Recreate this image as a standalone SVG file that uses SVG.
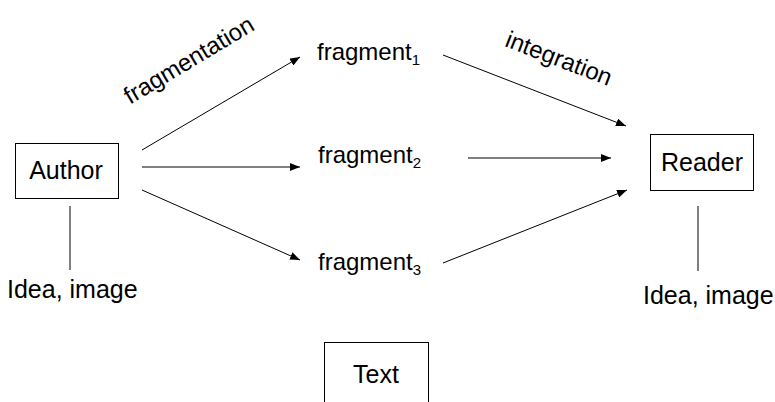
<svg xmlns="http://www.w3.org/2000/svg" width="775" height="402" viewBox="0 0 775 402">
<defs>
<marker id="ah" viewBox="0 0 10 8" refX="10" refY="4" markerWidth="10" markerHeight="8" markerUnits="userSpaceOnUse" orient="auto">
<path d="M0,0 L10,4 L0,8 Z" fill="#000"/>
</marker>
<style>
text{font-family:"Liberation Sans",Arial,sans-serif;font-size:25px;fill:#000}
.frag{font-size:24px}
.sub{font-size:15px}
.box{fill:#fff;stroke:#000;stroke-width:1}
.ln{stroke:#000;stroke-width:1;fill:none}
.arr{stroke:#000;stroke-width:1;fill:none;marker-end:url(#ah)}
</style>
</defs>
<rect width="775" height="402" fill="#fff"/>
<g id="connectors">
<line class="arr" x1="142" y1="150" x2="300" y2="57"/>
<line class="arr" x1="142" y1="167" x2="300" y2="167"/>
<line class="arr" x1="142" y1="190" x2="300" y2="260"/>
<line class="arr" x1="443" y1="55" x2="626" y2="126"/>
<line class="arr" x1="468" y1="158" x2="611" y2="158"/>
<line class="arr" x1="443" y1="263" x2="627" y2="190"/>
<line class="ln" x1="70" y1="206" x2="70" y2="270"/>
<line class="ln" x1="698" y1="206" x2="698" y2="271"/>
</g>
<g id="author">
<rect class="box" x="15.5" y="143.5" width="103" height="55"/>
<text x="66" y="179" text-anchor="middle">Author</text>
</g>
<g id="author-idea">
<text x="7" y="298">Idea, image</text>
</g>
<g id="reader">
<rect class="box" x="650.5" y="134.5" width="103" height="56"/>
<text x="702" y="171" text-anchor="middle">Reader</text>
</g>
<g id="reader-idea">
<text x="643" y="304">Idea, image</text>
</g>
<g id="fragment1">
<text class="frag" x="317" y="60">fragment<tspan class="sub" dy="5">1</tspan></text>
</g>
<g id="fragment2">
<text class="frag" x="318" y="163">fragment<tspan class="sub" dy="5">2</tspan></text>
</g>
<g id="fragment3">
<text class="frag" x="318" y="270">fragment<tspan class="sub" dy="5">3</tspan></text>
</g>
<g id="label-fragmentation">
<text class="frag" x="193" y="67" text-anchor="middle" transform="rotate(-31 193 67)">fragmentation</text>
</g>
<g id="label-integration">
<text class="frag" x="556" y="66" text-anchor="middle" transform="rotate(21 556 66)">integration</text>
</g>
<g id="text-box">
<rect class="box" x="324.5" y="342.5" width="104" height="70"/>
<text x="376" y="383" text-anchor="middle">Text</text>
</g>
</svg>
